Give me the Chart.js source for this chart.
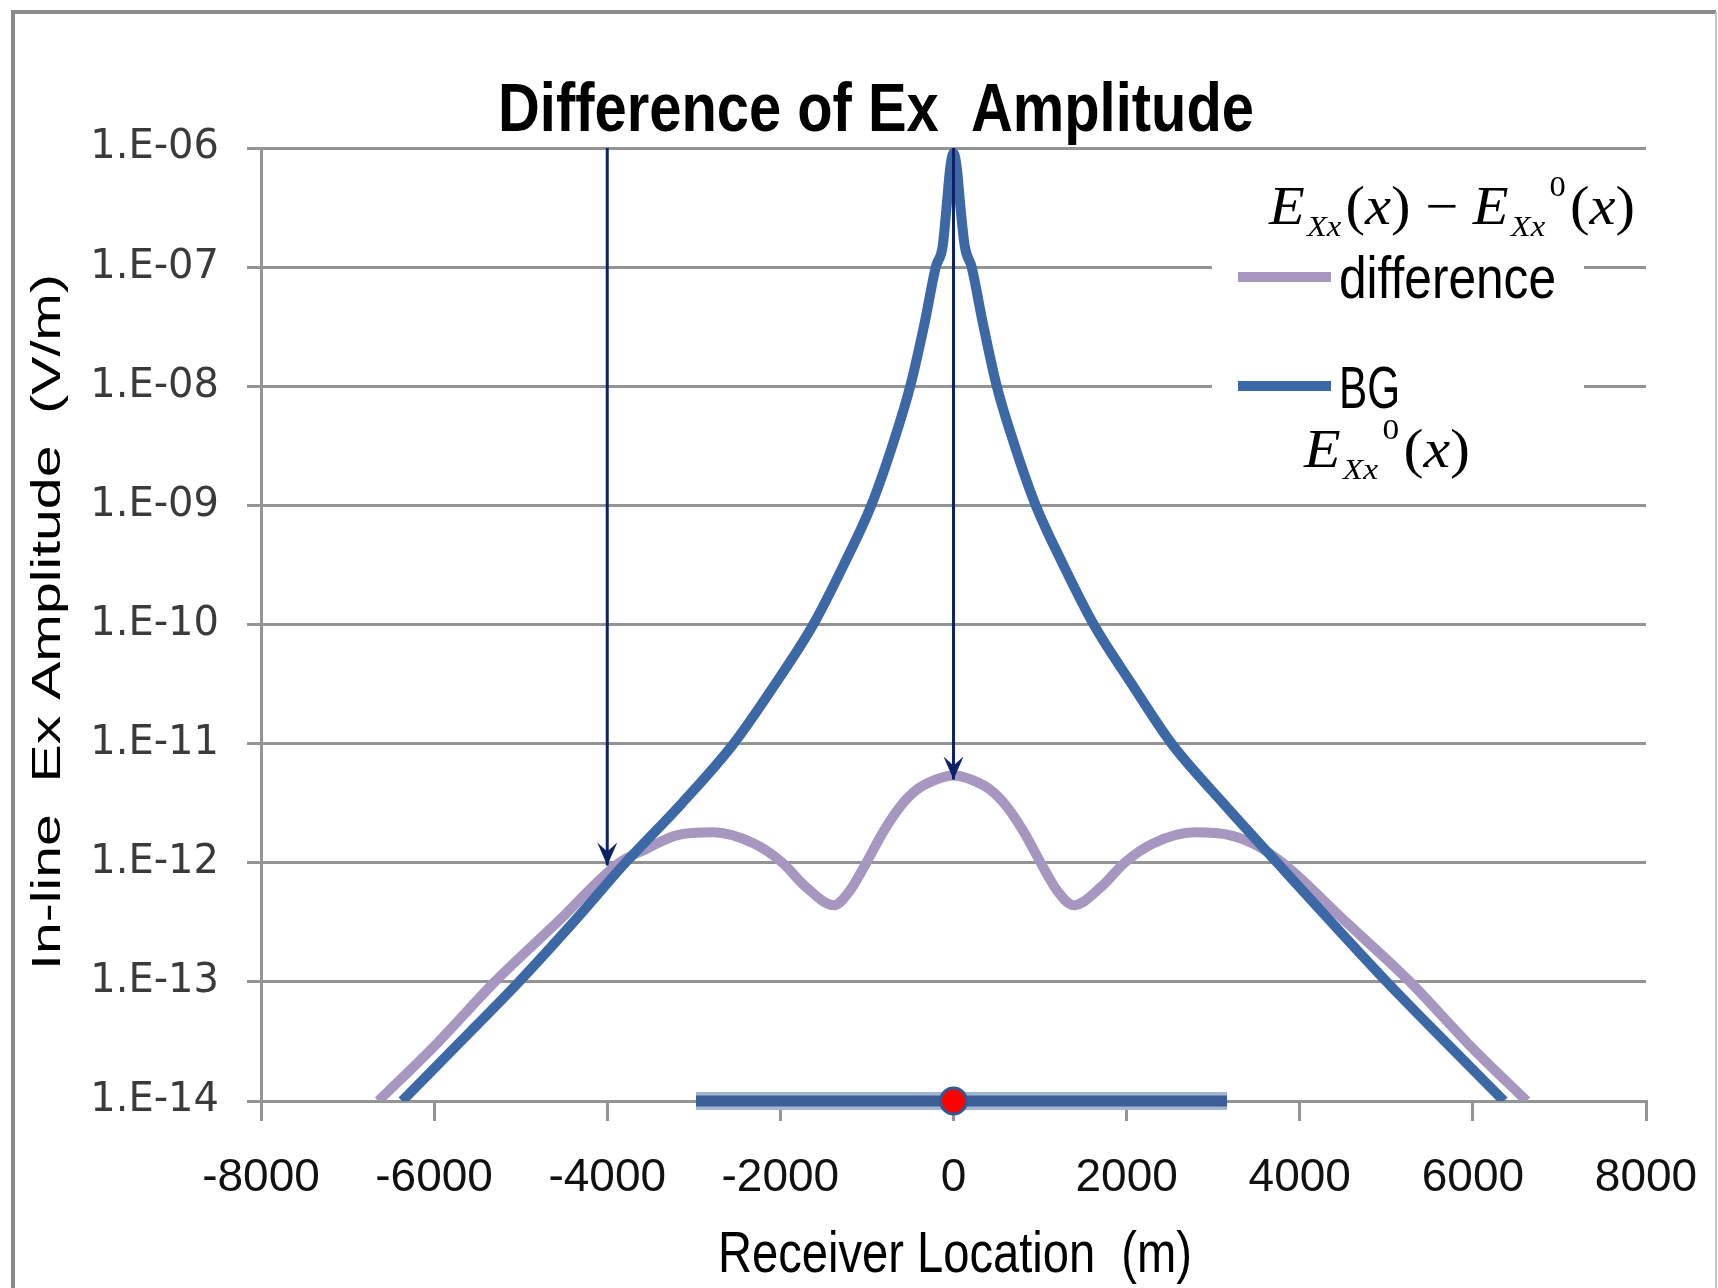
<!DOCTYPE html>
<html>
<head>
<meta charset="utf-8">
<title>Difference of Ex Amplitude</title>
<script src="https://cdn.jsdelivr.net/npm/chart.js@4.4.1/dist/chart.umd.min.js"></script>
<style>
  html, body { margin: 0; padding: 0; background: #fff; }
  #wrap { width: 1718px; height: 1288px; }
</style>
</head>
<body>
<div id="wrap"><canvas id="chart-ex" width="1718" height="1288"></canvas></div>
<script>
// receiver location (m) and amplitude (V/m)
var bgX = [-6370, -5685, -5020, -4385, -3790, -3130, -2540, -2055, -1620, -1265, -950, -705, -500, -330, -205, -125, -80, -40, 0,
           40, 80, 130, 210, 335, 500, 705, 950, 1265, 1620, 2055, 2520, 3110, 3740, 4360, 5005, 5670, 6360];
var bgAmp = [1.0e-14, 3.2e-14, 1.0e-13, 3.2e-13, 1.0e-12, 3.2e-12, 1.0e-11, 3.2e-11, 1.0e-10, 3.2e-10, 1.0e-9, 3.2e-9, 1.0e-8, 3.5e-8, 1.0e-7, 1.5e-7, 3.2e-7, 6.6e-7, 9.1e-7,
             6.6e-7, 3.2e-7, 1.5e-7, 1.0e-7, 3.5e-8, 1.0e-8, 3.2e-9, 1.0e-9, 3.2e-10, 1.0e-10, 3.2e-11, 1.0e-11, 3.2e-12, 1.0e-12, 3.2e-13, 1.0e-13, 3.2e-14, 1.0e-14];

var diffX = [-6645, -5975, -5300, -4570, -3860, -3555, -3200, -2781, -2305, -1977, -1709, -1382, -1200, -1024, -815, -618, -425, -200, 0,
             200, 425, 618, 815, 1024, 1200, 1388, 1709, 1977, 2305, 2787, 3200, 3500, 3800, 4530, 5274, 5950, 6622];
var diffAmp = [1.0e-14, 3.0e-14, 1.0e-13, 3.2e-13, 1.0e-12, 1.3e-12, 1.7e-12, 1.8e-12, 1.45e-12, 1.0e-12, 6.3e-13, 4.4e-13, 5.8e-13, 9.5e-13, 1.8e-12, 2.95e-12, 4.1e-12, 5.0e-12, 5.4e-12,
               5.0e-12, 4.1e-12, 2.95e-12, 1.8e-12, 9.5e-13, 5.8e-13, 4.4e-13, 6.3e-13, 1.0e-12, 1.45e-12, 1.8e-12, 1.7e-12, 1.4e-12, 1.0e-12, 3.2e-13, 1.0e-13, 3.0e-14, 1.0e-14];

var yTicks = [1e-14, 1e-13, 1e-12, 1e-11, 1e-10, 1e-9, 1e-8, 1e-7, 1e-6];

// the two annotation arrows
var arrowX = [-4000, 0];
var arrowTop = [1e-6, 1e-6];
var arrowTip = [9.5e-13, 5.0e-12];

// source tow line and transmitter position on the bottom axis
var towX = [-2975, 3160];
var txX = [0];
var floorAmp = 1e-14;

var BLUE = '#3c69a5';
var PURPLE = '#a797c0';
var NAVY = '#0e2366';
var GRID = '#949494';
var NARROW = '"Liberation Sans Narrow", "Liberation Sans", sans-serif';

function pairs(xs, ys) {
    return xs.map(function (x, i) { return { x: x, y: ys[i] }; });
}

// draws text squeezed/stretched to a measured width
function fitText(ctx, text, font, x, base, width, align) {
    ctx.font = font;
    var w = ctx.measureText(text).width;
    ctx.save();
    ctx.translate(x, base);
    ctx.scale(width / w, 1);
    ctx.textAlign = align || 'center';
    ctx.fillText(text, 0, 0);
    ctx.restore();
}

function drawMath(ctx, parts, x, base, width) {
    var total = 0;
    parts.forEach(function (p) {
        ctx.font = p.f;
        p.w = ctx.measureText(p.t).width + (p.gap || 0);
        total += p.w;
    });
    ctx.save();
    ctx.translate(x, base);
    ctx.scale(width / total, 1);
    ctx.textAlign = 'left';
    ctx.textBaseline = 'alphabetic';
    var cx = 0;
    parts.forEach(function (p) {
        ctx.font = p.f;
        ctx.fillText(p.t, cx, p.dy || 0);
        cx += p.w;
    });
    ctx.restore();
}

var IT = 'italic 54px "Liberation Serif", serif';
var UP = '54px "Liberation Serif", serif';
var SUB = 'italic 30px "Liberation Serif", serif';
var SUP = '30px "Liberation Serif", serif';

function eXx(withZero) {
    var p = [{ t: 'E', f: IT, gap: 2 }, { t: 'Xx', f: SUB, dy: 12, gap: 4 }];
    if (withZero) p.push({ t: '0', f: SUP, dy: -28, gap: 4 });
    p.push({ t: '(', f: UP }, { t: 'x', f: IT }, { t: ')', f: UP });
    return p;
}

var decor = {
    id: 'exDecor',
    beforeDraw: function (chart) {
        var ctx = chart.ctx;
        ctx.save();
        ctx.fillStyle = '#fff';
        ctx.fillRect(0, 0, chart.width, chart.height);
        // outer frame (cut at the bottom)
        ctx.strokeStyle = '#8a8a8a';
        ctx.lineWidth = 4;
        ctx.beginPath();
        ctx.moveTo(13, chart.height);
        ctx.lineTo(13, 12);
        ctx.lineTo(1716, 12);
        ctx.stroke();
        ctx.strokeStyle = '#c4c4c4';
        ctx.lineWidth = 2;
        ctx.beginPath();
        ctx.moveTo(1716, 12);
        ctx.lineTo(1716, chart.height);
        ctx.stroke();
        ctx.restore();
    },
    beforeDatasetsDraw: function (chart) {
        // legend background hides the grid lines behind it
        var ctx = chart.ctx;
        ctx.save();
        ctx.fillStyle = '#fff';
        ctx.fillRect(1212, 200, 372, 240);
        ctx.restore();
    },
    afterDatasetsDraw: function (chart) {
        var ctx = chart.ctx;
        ctx.save();
        ctx.fillStyle = NAVY;
        chart.data.datasets.forEach(function (ds, i) {
            if (!ds.arrow) return;
            var tip = chart.getDatasetMeta(i).data[1];
            ctx.beginPath();
            ctx.moveTo(tip.x, tip.y);
            ctx.lineTo(tip.x - 10, tip.y - 23);
            ctx.lineTo(tip.x, tip.y - 14);
            ctx.lineTo(tip.x + 10, tip.y - 23);
            ctx.closePath();
            ctx.fill();
        });
        ctx.restore();
    },
    afterDraw: function (chart) {
        var ctx = chart.ctx;
        ctx.save();
        ctx.fillStyle = '#000';
        ctx.textBaseline = 'alphabetic';
        fitText(ctx, 'Difference of Ex  Amplitude', 'bold 69px ' + NARROW, 876, 131, 756);
        fitText(ctx, 'Receiver Location  (m)', '57px ' + NARROW, 955, 1272, 474);

        ctx.save();
        ctx.translate(49, 622);
        ctx.rotate(-Math.PI / 2);
        ctx.textBaseline = 'middle';
        fitText(ctx, 'In-line  Ex Amplitude  (V/m)', '41px "Liberation Sans", sans-serif', 0, 0, 696);
        ctx.restore();

        // legend
        ctx.lineWidth = 10;
        ctx.strokeStyle = PURPLE;
        ctx.beginPath(); ctx.moveTo(1238, 277); ctx.lineTo(1331, 277); ctx.stroke();
        ctx.strokeStyle = BLUE;
        ctx.beginPath(); ctx.moveTo(1238, 386); ctx.lineTo(1331, 386); ctx.stroke();
        fitText(ctx, 'difference', '60px ' + NARROW, 1339, 298, 217, 'left');
        fitText(ctx, 'BG', '60px ' + NARROW, 1339, 408, 61, 'left');

        var line1 = eXx(false).concat([{ t: ' \u2212 ', f: UP }]).concat(eXx(true));
        drawMath(ctx, line1, 1269, 224, 366);
        drawMath(ctx, eXx(true), 1304, 467, 166);
        ctx.restore();
    }
};

var datasets = [];
arrowX.forEach(function (ax, i) {
    datasets.push({
        arrow: true,
        data: [{ x: ax, y: arrowTop[i] }, { x: ax, y: arrowTip[i] }],
        borderColor: NAVY,
        borderWidth: 3,
        pointRadius: 0
    });
});
datasets.push({
    data: pairs(txX, [floorAmp]),
    showLine: false,
    pointRadius: 13,
    pointBackgroundColor: '#ff0000',
    pointBorderColor: '#2f5a94',
    pointBorderWidth: 3,
    clip: false
});
datasets.push({
    data: pairs(towX, [floorAmp, floorAmp]),
    borderColor: '#3b6097',
    borderWidth: 11,
    pointRadius: 0,
    clip: false
});
datasets.push({
    data: pairs(towX, [floorAmp, floorAmp]),
    borderColor: '#a3b6cf',
    borderWidth: 18,
    pointRadius: 0,
    clip: false
});
datasets.push({
    label: 'BG',
    data: pairs(bgX, bgAmp),
    borderColor: BLUE,
    borderWidth: 10,
    pointRadius: 0,
    cubicInterpolationMode: 'monotone'
});
datasets.push({
    label: 'difference',
    data: pairs(diffX, diffAmp),
    borderColor: PURPLE,
    borderWidth: 10,
    pointRadius: 0,
    cubicInterpolationMode: 'monotone'
});

new Chart(document.getElementById('chart-ex').getContext('2d'), {
    type: 'line',
    data: { datasets: datasets },
    plugins: [decor],
    options: {
        responsive: false,
        animation: false,
        devicePixelRatio: 1,
        events: [],
        layout: { padding: { left: 0, right: 72, top: 148, bottom: 0 } },
        plugins: { legend: { display: false }, tooltip: { enabled: false }, title: { display: false } },
        scales: {
            x: {
                type: 'linear',
                min: -8000,
                max: 8000,
                ticks: {
                    stepSize: 2000,
                    autoSkip: false,
                    maxRotation: 0,
                    padding: 30,
                    color: '#111',
                    font: { family: '"Liberation Sans", sans-serif', size: 46 },
                    callback: function (v) { return String(v); }
                },
                grid: { drawOnChartArea: false, drawTicks: true, tickLength: 20, color: GRID, lineWidth: 3 },
                border: { display: true, color: GRID, width: 3 },
                afterFit: function (s) { s.height = 187; s.paddingLeft = 0; s.paddingRight = 0; }
            },
            y: {
                type: 'logarithmic',
                min: 1e-14,
                max: 1e-6,
                afterBuildTicks: function (s) {
                    s.ticks = yTicks.map(function (v) { return { value: v }; });
                },
                ticks: {
                    autoSkip: false,
                    padding: 28,
                    color: '#3a3a3a',
                    font: { family: '"DejaVu Sans", sans-serif', size: 40 },
                    callback: function (v) {
                        var e = Math.round(Math.log10(v));
                        var s = String(Math.abs(e));
                        if (s.length < 2) s = '0' + s;
                        return '1.E' + (e < 0 ? '-' : '+') + s;
                    }
                },
                grid: { color: GRID, lineWidth: 3, tickLength: 14 },
                border: { display: true, color: GRID, width: 3 },
                afterFit: function (s) { s.width = 261; s.paddingTop = 0; s.paddingBottom = 0; }
            }
        }
    }
});
</script>
</body>
</html>
